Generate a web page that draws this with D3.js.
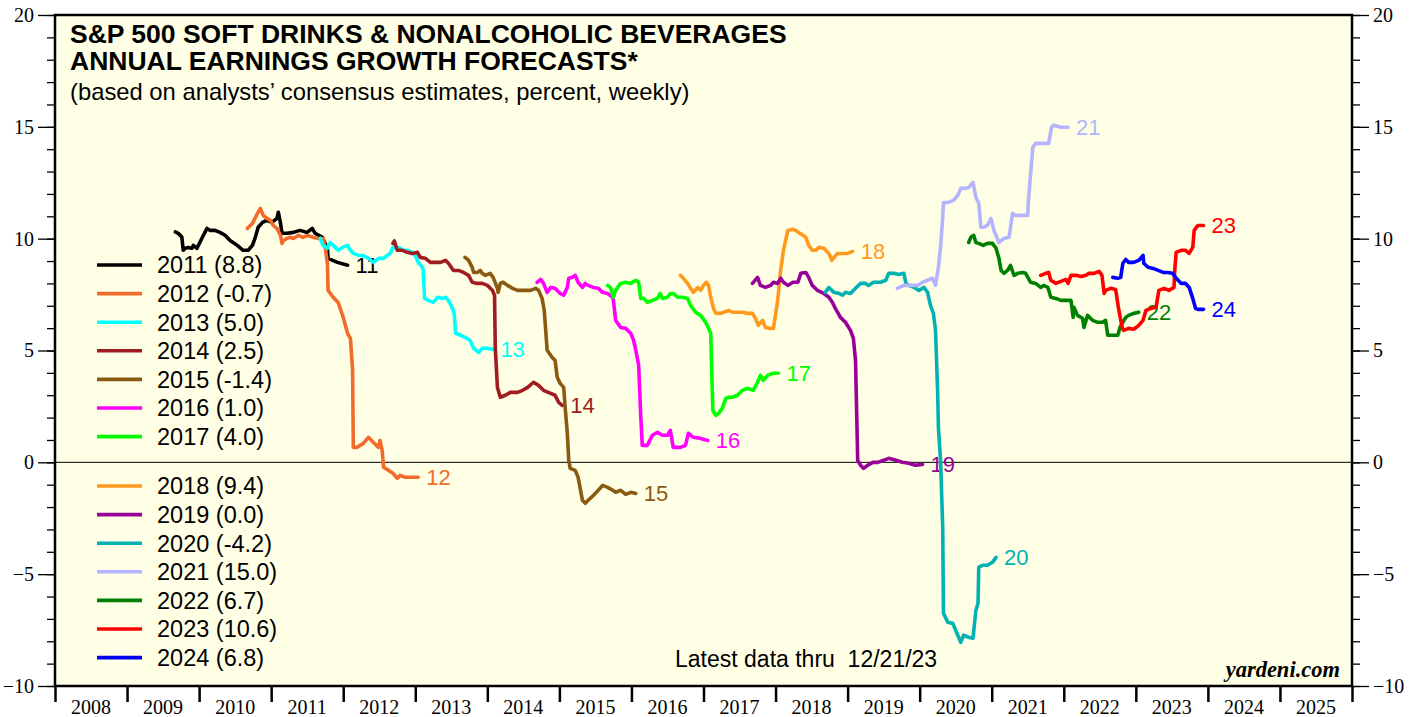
<!DOCTYPE html>
<html>
    <head>
        <meta charset="utf-8" />
        <script src="https://d3js.org/d3.v7.min.js"></script>
        <style type="text/css">
            body {
                margin: 0;
                background: #ffffff;
            }
            svg#mainSvg {
                display: block;
            }
            .serif {
                font-family: "Liberation Serif", "Times New Roman", serif;
            }
            .sans {
                font-family: "Liberation Sans", Arial, sans-serif;
            }
            path.fc {
                fill: none;
                stroke-width: 3.6;
                stroke-linejoin: round;
                stroke-linecap: round;
            }
        </style>
    </head>

    <body>
        <svg id="mainSvg" width="1416" height="717"></svg>

        <!-- Data: [decimal year, percent] -->
        <script type="text/javascript">
            const s2011 = [[2009.67,10.30],[2009.71,10.24],[2009.76,10.07],[2009.78,9.48],[2009.81,9.57],[2009.85,9.61],[2009.90,9.57],[2009.92,9.70],[2009.97,9.57],[2010.01,9.83],[2010.06,10.15],[2010.11,10.46],[2010.15,10.37],[2010.22,10.37],[2010.29,10.28],[2010.36,10.15],[2010.43,9.92],[2010.53,9.70],[2010.61,9.48],[2010.68,9.48],[2010.74,9.70],[2010.78,10.06],[2010.82,10.51],[2010.88,10.73],[2010.94,10.82],[2011.01,10.73],[2011.08,10.91],[2011.10,11.18],[2011.13,10.68],[2011.15,10.24],[2011.22,10.24],[2011.31,10.28],[2011.40,10.37],[2011.50,10.28],[2011.57,10.46],[2011.61,10.24],[2011.71,10.06],[2011.78,9.57],[2011.79,9.12],[2011.92,8.94],[2012.06,8.81]];
            const s2012 = [[2010.67,10.46],[2010.74,10.68],[2010.81,11.13],[2010.85,11.35],[2010.89,11.04],[2010.94,10.91],[2010.99,10.82],[2011.03,10.59],[2011.08,10.46],[2011.13,10.15],[2011.15,9.79],[2011.17,9.92],[2011.22,10.01],[2011.26,10.06],[2011.31,10.01],[2011.38,10.15],[2011.44,10.06],[2011.51,10.15],[2011.58,10.06],[2011.65,10.01],[2011.72,10.01],[2011.75,9.61],[2011.78,8.90],[2011.79,7.69],[2011.86,7.38],[2011.93,7.15],[2012.00,6.48],[2012.06,5.77],[2012.10,5.54],[2012.13,4.11],[2012.14,0.67],[2012.19,0.67],[2012.28,0.85],[2012.35,1.12],[2012.42,0.89],[2012.49,0.67],[2012.51,0.98],[2012.54,0.54],[2012.56,-0.22],[2012.63,-0.36],[2012.69,-0.49],[2012.75,-0.72],[2012.79,-0.58],[2012.86,-0.67],[2012.93,-0.67],[2013.04,-0.67]];
            const s2013 = [[2011.68,10.01],[2011.72,9.70],[2011.78,9.57],[2011.82,9.83],[2011.86,9.70],[2011.93,9.48],[2011.99,9.61],[2012.06,9.70],[2012.10,9.48],[2012.14,9.34],[2012.21,9.25],[2012.28,9.25],[2012.35,9.12],[2012.42,8.94],[2012.49,9.12],[2012.56,9.12],[2012.61,9.25],[2012.65,9.34],[2012.69,9.61],[2012.75,9.61],[2012.79,9.57],[2012.83,9.48],[2012.89,9.48],[2012.96,9.39],[2013.00,9.25],[2013.04,8.94],[2013.10,8.72],[2013.11,8.58],[2013.13,7.33],[2013.18,7.24],[2013.25,7.15],[2013.31,7.38],[2013.38,7.33],[2013.42,7.38],[2013.46,7.24],[2013.51,6.93],[2013.54,6.66],[2013.56,5.77],[2013.63,5.68],[2013.69,5.59],[2013.76,5.45],[2013.81,5.10],[2013.88,4.92],[2013.93,5.10],[2014.00,5.10],[2014.07,5.05]];
            const s2014 = [[2012.69,9.79],[2012.71,9.90],[2012.75,9.48],[2012.82,9.48],[2012.89,9.39],[2012.96,9.34],[2013.03,9.39],[2013.07,9.16],[2013.14,9.12],[2013.21,8.94],[2013.28,8.94],[2013.35,8.94],[2013.42,9.03],[2013.46,8.90],[2013.53,8.58],[2013.60,8.58],[2013.67,8.49],[2013.74,8.36],[2013.79,8.05],[2013.86,8.00],[2013.93,8.00],[2014.00,7.91],[2014.07,7.69],[2014.10,7.47],[2014.11,5.14],[2014.14,3.35],[2014.18,2.91],[2014.25,3.00],[2014.32,3.13],[2014.42,3.13],[2014.49,3.22],[2014.56,3.35],[2014.64,3.58],[2014.71,3.44],[2014.78,3.22],[2014.88,3.08],[2014.94,3.00],[2014.99,2.68],[2015.04,2.55]];
            const s2015 = [[2013.69,9.16],[2013.74,9.03],[2013.79,8.72],[2013.81,8.49],[2013.86,8.49],[2013.90,8.58],[2013.93,8.45],[2013.97,8.36],[2014.04,8.45],[2014.08,8.27],[2014.14,7.78],[2014.15,7.60],[2014.18,8.00],[2014.22,8.05],[2014.28,7.91],[2014.35,7.78],[2014.42,7.69],[2014.50,7.69],[2014.60,7.69],[2014.67,7.78],[2014.71,7.69],[2014.76,7.33],[2014.79,6.79],[2014.81,5.90],[2014.83,5.01],[2014.90,4.69],[2014.94,4.56],[2014.97,3.80],[2015.01,3.53],[2015.06,3.35],[2015.08,2.46],[2015.11,1.30],[2015.13,0.09],[2015.15,-0.27],[2015.22,-0.36],[2015.26,-0.67],[2015.32,-1.70],[2015.36,-1.83],[2015.40,-1.70],[2015.47,-1.48],[2015.54,-1.25],[2015.60,-1.03],[2015.67,-1.12],[2015.74,-1.25],[2015.78,-1.34],[2015.85,-1.25],[2015.92,-1.43],[2015.99,-1.34],[2016.06,-1.39]];
            const s2016 = [[2014.69,8.05],[2014.74,8.18],[2014.78,8.00],[2014.83,7.60],[2014.88,7.82],[2014.94,7.78],[2015.01,7.55],[2015.06,7.47],[2015.11,7.82],[2015.13,8.23],[2015.18,8.27],[2015.22,8.36],[2015.26,8.05],[2015.32,7.82],[2015.36,8.00],[2015.40,7.91],[2015.47,7.82],[2015.54,7.78],[2015.60,7.60],[2015.67,7.55],[2015.74,7.38],[2015.75,7.24],[2015.78,6.35],[2015.85,6.03],[2015.92,5.99],[2015.99,5.77],[2016.03,5.45],[2016.06,5.01],[2016.10,4.34],[2016.13,2.01],[2016.15,0.76],[2016.22,0.76],[2016.29,1.21],[2016.36,1.34],[2016.43,1.21],[2016.50,1.21],[2016.54,1.43],[2016.58,0.67],[2016.68,0.67],[2016.75,0.76],[2016.79,1.30],[2016.86,1.12],[2016.96,1.07],[2017.06,0.98]];
            const s2017 = [[2015.67,7.91],[2015.71,7.82],[2015.75,7.38],[2015.78,7.69],[2015.85,8.00],[2015.92,8.05],[2015.99,8.00],[2016.06,8.14],[2016.10,8.05],[2016.13,7.33],[2016.17,7.33],[2016.22,7.15],[2016.29,7.24],[2016.36,7.33],[2016.40,7.55],[2016.43,7.33],[2016.50,7.38],[2016.54,7.55],[2016.58,7.55],[2016.64,7.38],[2016.71,7.38],[2016.78,7.33],[2016.82,7.02],[2016.89,6.71],[2016.96,6.57],[2017.03,6.26],[2017.07,5.99],[2017.10,5.77],[2017.11,4.56],[2017.13,2.32],[2017.17,2.10],[2017.21,2.19],[2017.26,2.41],[2017.31,2.86],[2017.35,2.91],[2017.40,2.91],[2017.47,3.00],[2017.54,3.22],[2017.61,3.31],[2017.69,3.22],[2017.75,3.58],[2017.79,3.89],[2017.83,3.67],[2017.89,3.89],[2017.96,3.98],[2018.04,3.98]];
            const s2018 = [[2016.68,8.36],[2016.72,8.23],[2016.78,8.00],[2016.82,7.78],[2016.86,7.60],[2016.92,7.82],[2016.96,7.69],[2017.00,7.91],[2017.04,8.05],[2017.07,7.91],[2017.10,7.38],[2017.14,6.88],[2017.17,6.66],[2017.24,6.66],[2017.28,6.71],[2017.35,6.79],[2017.40,6.71],[2017.47,6.71],[2017.54,6.71],[2017.61,6.66],[2017.68,6.66],[2017.72,6.44],[2017.76,6.12],[2017.82,6.35],[2017.86,6.03],[2017.93,5.99],[2017.97,5.99],[2018.03,7.24],[2018.07,8.58],[2018.11,9.48],[2018.14,9.92],[2018.17,10.37],[2018.24,10.42],[2018.28,10.37],[2018.32,10.28],[2018.38,10.15],[2018.42,10.06],[2018.46,9.70],[2018.51,9.48],[2018.56,9.48],[2018.60,9.61],[2018.67,9.57],[2018.74,9.34],[2018.78,9.03],[2018.81,9.16],[2018.86,9.34],[2018.93,9.34],[2019.00,9.34],[2019.07,9.43]];
            const s2019 = [[2017.68,8.00],[2017.75,8.27],[2017.79,7.91],[2017.86,7.82],[2017.93,7.91],[2017.97,8.05],[2018.03,8.00],[2018.07,8.23],[2018.11,8.05],[2018.17,7.91],[2018.24,8.05],[2018.31,8.05],[2018.35,8.45],[2018.42,8.49],[2018.46,8.27],[2018.51,7.91],[2018.58,7.69],[2018.67,7.55],[2018.74,7.38],[2018.79,7.15],[2018.83,6.88],[2018.90,6.48],[2018.97,6.26],[2019.04,5.90],[2019.08,5.54],[2019.11,4.56],[2019.14,0.09],[2019.18,-0.13],[2019.22,-0.27],[2019.28,-0.13],[2019.35,0.00],[2019.42,0.00],[2019.50,0.09],[2019.57,0.18],[2019.67,0.09],[2019.76,0.00],[2019.85,-0.04],[2019.94,-0.13],[2020.04,-0.09]];
            const s2020 = [[2018.69,7.60],[2018.74,7.82],[2018.81,7.60],[2018.88,7.55],[2018.93,7.47],[2018.97,7.60],[2019.04,7.55],[2019.11,7.78],[2019.18,8.00],[2019.25,8.00],[2019.29,7.91],[2019.36,8.05],[2019.46,8.05],[2019.53,8.14],[2019.57,8.45],[2019.64,8.45],[2019.71,8.40],[2019.78,8.45],[2019.81,8.00],[2019.85,7.91],[2019.92,7.82],[2019.99,7.69],[2020.06,7.82],[2020.11,7.60],[2020.15,7.02],[2020.19,6.66],[2020.22,5.90],[2020.25,3.08],[2020.26,1.56],[2020.29,0.09],[2020.32,-2.91],[2020.33,-6.75],[2020.39,-7.15],[2020.46,-7.20],[2020.50,-7.51],[2020.57,-8.05],[2020.61,-7.73],[2020.68,-7.82],[2020.74,-7.87],[2020.78,-6.62],[2020.81,-6.30],[2020.82,-4.69],[2020.88,-4.60],[2020.94,-4.60],[2021.01,-4.47],[2021.06,-4.25]];
            const s2021 = [[2019.69,7.78],[2019.78,7.91],[2019.88,7.91],[2019.97,7.91],[2020.04,8.05],[2020.11,8.14],[2020.18,8.23],[2020.22,7.91],[2020.26,8.72],[2020.29,9.61],[2020.32,10.95],[2020.33,11.62],[2020.40,11.62],[2020.47,11.71],[2020.53,11.94],[2020.57,12.25],[2020.64,12.25],[2020.68,12.29],[2020.74,12.52],[2020.78,11.85],[2020.82,11.58],[2020.85,10.51],[2020.89,10.51],[2020.94,10.59],[2020.99,10.91],[2021.03,10.37],[2021.10,9.83],[2021.17,10.01],[2021.24,10.06],[2021.29,11.13],[2021.33,11.04],[2021.40,11.04],[2021.50,11.04],[2021.51,11.71],[2021.57,14.08],[2021.61,14.26],[2021.71,14.26],[2021.79,14.26],[2021.83,14.98],[2021.86,15.07],[2021.96,14.98],[2022.06,14.98]];
            const s2022 = [[2020.68,9.83],[2020.71,10.06],[2020.75,10.15],[2020.78,9.83],[2020.82,9.79],[2020.88,9.70],[2020.94,9.79],[2021.01,9.79],[2021.06,9.57],[2021.10,9.12],[2021.13,8.58],[2021.17,8.45],[2021.22,8.58],[2021.26,8.81],[2021.31,8.36],[2021.36,8.45],[2021.43,8.49],[2021.47,8.45],[2021.54,8.05],[2021.61,8.00],[2021.68,7.82],[2021.72,7.91],[2021.78,7.82],[2021.82,7.38],[2021.89,7.33],[2021.96,7.24],[2022.03,7.24],[2022.10,7.24],[2022.13,6.48],[2022.14,6.93],[2022.19,6.57],[2022.26,6.44],[2022.28,6.03],[2022.33,6.57],[2022.40,6.35],[2022.47,6.26],[2022.54,6.26],[2022.58,6.35],[2022.61,5.68],[2022.68,5.68],[2022.75,5.68],[2022.78,6.03],[2022.82,6.26],[2022.86,6.48],[2022.90,6.57],[2022.97,6.66],[2023.04,6.71]];
            const s2023 = [[2021.68,8.36],[2021.75,8.45],[2021.79,8.49],[2021.82,8.14],[2021.89,8.00],[2021.96,8.09],[2022.03,8.18],[2022.06,8.00],[2022.10,8.36],[2022.17,8.36],[2022.24,8.31],[2022.31,8.36],[2022.35,8.45],[2022.42,8.45],[2022.49,8.54],[2022.53,8.36],[2022.56,7.55],[2022.58,7.69],[2022.65,7.78],[2022.72,7.73],[2022.76,6.88],[2022.81,6.03],[2022.83,5.90],[2022.90,5.99],[2022.97,5.95],[2023.04,6.12],[2023.10,6.35],[2023.14,6.79],[2023.21,6.88],[2023.28,6.93],[2023.32,7.69],[2023.39,7.78],[2023.46,7.69],[2023.53,7.82],[2023.54,8.58],[2023.56,9.39],[2023.63,9.48],[2023.69,9.48],[2023.74,9.34],[2023.79,9.61],[2023.81,10.37],[2023.86,10.59],[2023.94,10.59]];
            const s2024 = [[2022.68,8.27],[2022.75,8.23],[2022.79,8.27],[2022.82,8.90],[2022.86,9.07],[2022.90,8.94],[2022.97,8.94],[2023.04,9.03],[2023.10,9.25],[2023.11,8.90],[2023.17,8.72],[2023.24,8.67],[2023.31,8.58],[2023.38,8.49],[2023.44,8.49],[2023.51,8.45],[2023.56,8.23],[2023.63,8.00],[2023.69,8.00],[2023.74,7.82],[2023.79,7.33],[2023.83,6.88],[2023.86,6.84],[2023.94,6.84]];

            const seriesYears = [2011, 2012, 2013, 2014, 2015, 2016, 2017, 2018, 2019, 2020, 2021, 2022, 2023, 2024];
            const seriesData = [s2011, s2012, s2013, s2014, s2015, s2016, s2017, s2018, s2019, s2020, s2021, s2022, s2023, s2024];
            const legendValues = ["8.8", "-0.7", "5.0", "2.5", "-1.4", "1.0", "4.0", "9.4", "0.0", "-4.2", "15.0", "6.7", "10.6", "6.8"];
            const colors = ["#000000", "#f26b2a", "#00ffff", "#a01c20", "#8b5a12", "#ff00ff", "#00ff00", "#ff9a1e", "#990099", "#00b2b2", "#b4b4ff", "#008000", "#ff0000", "#0000ff"];
            const xYears = d3.range(2008, 2026);
            const yMajor = [-10, -5, 0, 5, 10, 15, 20];
            const yMinor = d3.range(-10, 21, 1);
        </script>

        <script type="text/javascript">
            const svg = d3.select("#mainSvg");
            const L = 55, R = 1352, T = 15, B = 686;

            const x = d3.scaleLinear().domain([2008, 2026]).range([L, R]);
            const y = d3.scaleLinear().domain([-10, 20]).range([B, T]);

            // Plot background
            svg.append("rect")
                .attr("x", L).attr("y", T)
                .attr("width", R - L).attr("height", B - T)
                .attr("fill", "#ffffe6");

            // Zero line
            svg.append("line")
                .attr("x1", L).attr("x2", R)
                .attr("y1", y(0)).attr("y2", y(0))
                .attr("stroke", "#000").attr("stroke-width", 1);

            // Lines + end labels
            const line = d3.line().x((d) => x(d[0])).y((d) => y(d[1]));
            const gLines = svg.append("g");
            seriesData.forEach((s, i) => {
                gLines.append("path")
                    .attr("class", "fc")
                    .attr("d", line(s))
                    .attr("stroke", colors[i]);
                const last = s[s.length - 1];
                gLines.append("text")
                    .attr("class", "sans")
                    .attr("x", x(last[0]) + 8)
                    .attr("y", y(last[1]))
                    .attr("dy", "0.36em")
                    .attr("font-size", 22)
                    .attr("fill", colors[i])
                    .text(String(seriesYears[i]).slice(2));
            });

            // Frame
            svg.append("rect")
                .attr("x", L).attr("y", T)
                .attr("width", R - L).attr("height", B - T)
                .attr("fill", "none")
                .attr("stroke", "#000").attr("stroke-width", 2.5);

            // Y axes
            function yAxis(gen, xpos, size, labels) {
                const g = svg.append("g")
                    .attr("transform", "translate(" + xpos + ",0)")
                    .call(gen.tickSizeOuter(0).tickSize(size).tickPadding(4));
                g.select(".domain").remove();
                g.selectAll("line").attr("stroke", "#000").attr("stroke-width", 1.3);
                g.selectAll("text")
                    .attr("class", "serif")
                    .attr("font-size", 20)
                    .attr("fill", "#000");
                if (!labels) g.selectAll("text").remove();
                return g;
            }
            yAxis(d3.axisLeft(y).tickValues(yMinor).tickFormat(""), L, 8, false);
            yAxis(d3.axisLeft(y).tickValues(yMajor).tickFormat(d3.format("d")), L, 17, true);
            yAxis(d3.axisRight(y).tickValues(yMinor).tickFormat(""), R, 8, false);
            yAxis(d3.axisRight(y).tickValues(yMajor).tickFormat(d3.format("d")), R, 17, true);

            // X axis: ticks at year boundaries, labels mid-year
            const gx = svg.append("g")
                .attr("transform", "translate(0," + B + ")")
                .call(d3.axisBottom(x).tickValues(d3.range(2008, 2027)).tickSize(16).tickSizeOuter(0).tickFormat(""));
            gx.select(".domain").remove();
            gx.selectAll("line").attr("stroke", "#000").attr("stroke-width", 2.5);
            svg.append("g")
                .selectAll("text")
                .data(xYears)
                .enter()
                .append("text")
                .attr("class", "serif")
                .attr("x", (d) => x(d + 0.5))
                .attr("y", 714)
                .attr("text-anchor", "middle")
                .attr("font-size", 20)
                .text((d) => d);

            // Title
            const title = svg.append("g").attr("class", "sans");
            title.append("text")
                .attr("x", 70).attr("y", 43)
                .attr("font-size", 26.5).attr("font-weight", "bold")
                .text("S&P 500 SOFT DRINKS & NONALCOHOLIC BEVERAGES");
            title.append("text")
                .attr("x", 70).attr("y", 70)
                .attr("font-size", 26.5).attr("font-weight", "bold")
                .text("ANNUAL EARNINGS GROWTH FORECASTS*");
            title.append("text")
                .attr("x", 70).attr("y", 100)
                .attr("font-size", 23.8)
                .text("(based on analysts\u2019 consensus estimates, percent, weekly)");

            // Legend
            const rowY = (i) => (i < 7 ? 265 + i * 28.6 : 486 + (i - 7) * 28.6);
            const gLeg = svg.append("g");
            seriesYears.forEach((yr, i) => {
                gLeg.append("line")
                    .attr("x1", 97).attr("x2", 142)
                    .attr("y1", rowY(i)).attr("y2", rowY(i))
                    .attr("stroke", colors[i]).attr("stroke-width", 3.6);
                gLeg.append("text")
                    .attr("class", "sans")
                    .attr("x", 157).attr("y", rowY(i))
                    .attr("dy", "0.36em")
                    .attr("font-size", 23.5)
                    .text(yr + " (" + legendValues[i] + ")");
            });

            // Notes
            svg.append("text")
                .attr("class", "sans")
                .attr("x", 675).attr("y", 667)
                .attr("font-size", 23)
                .attr("xml:space", "preserve")
                .text("Latest data thru  12/21/23");
            svg.append("text")
                .attr("class", "serif")
                .attr("x", 1340).attr("y", 677)
                .attr("text-anchor", "end")
                .attr("font-size", 22.5)
                .attr("font-weight", "bold")
                .attr("font-style", "italic")
                .text("yardeni.com");
        </script>
    </body>
</html>
